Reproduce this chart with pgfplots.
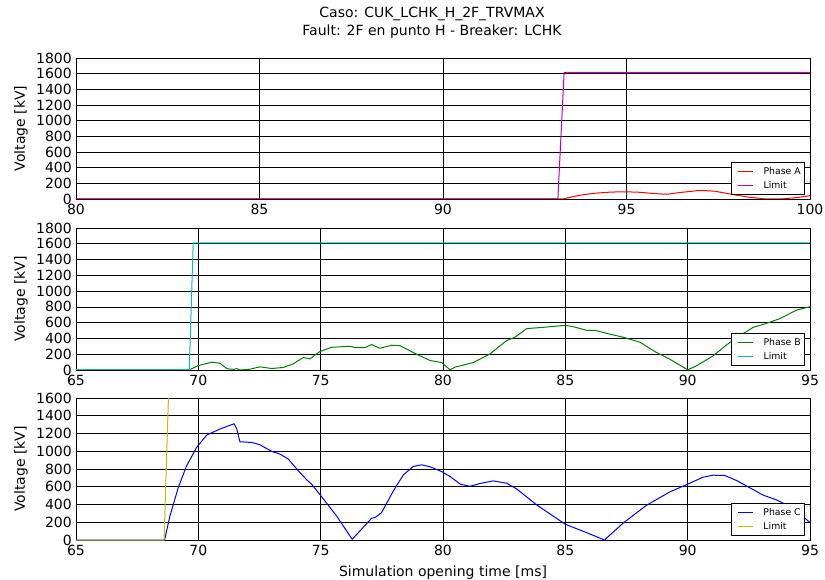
\documentclass[border=0pt]{standalone}
\usepackage{fontspec}
\setmainfont{DejaVu Sans}
\usepackage{pgfplots}
\pgfplotsset{compat=1.18}
\definecolor{mplm}{rgb}{0.75,0,0.75}
\definecolor{mplc}{rgb}{0,0.75,0.75}
\definecolor{mply}{rgb}{0.75,0.75,0}
\definecolor{mplg}{rgb}{0,0.5,0}
\definecolor{mplr}{rgb}{1,0,0}
\definecolor{mplb}{rgb}{0,0,1}
\pgfplotsset{
  panel/.style={
    scale only axis, width=734pt,
    axis line style={black, line width=0.9pt},
    grid=major, grid style={black, line width=0.7pt},
    tick align=inside, major tick length=4pt,
    tick style={black, line width=0.7pt},
    xtick distance=5, ytick distance=200,
    /pgf/number format/assume math mode=true,
    /pgf/number format/1000 sep={},
    tick label style={font=\fontsize{14}{16}\selectfont},
    yticklabel style={inner sep=1pt, xshift=-3pt},
    xticklabel style={inner sep=1pt, yshift=-4pt},
    ylabel={Voltage [kV]},
    every axis y label/.style={at={(axis description cs:-0.0749,0.5)}, rotate=90, anchor=center, font=\fontsize{14}{16}\selectfont},
    legend style={at={(1,0)}, anchor=south east, xshift=-5pt, yshift=4pt,
      draw=black, fill=white, line width=0.6pt, font=\fontsize{9.3}{11}\selectfont,
      inner xsep=2pt, inner ysep=3pt, row sep=1pt, cells={anchor=west},
      /tikz/every odd column/.append style={column sep=8pt}},
    legend image code/.code={\path (0pt,0pt); \draw[#1, line width=1.2pt] (4pt,0pt) -- (19pt,0pt);},
  },
  dline/.style={line width=1pt, mark=none},
}
\begin{document}
\begin{tikzpicture}
\path[use as bounding box] (0pt,0pt) rectangle (825pt,579pt);
\node[font=\fontsize{14}{16}\selectfont] at (432pt,565pt) {Caso: CUK\_LCHK\_H\_2F\_TRVMAX};
\node[font=\fontsize{14}{16}\selectfont] at (432pt,547pt) {Fault: 2F en punto H - Breaker: LCHK};

\begin{axis}[panel, at={(76pt,380pt)}, anchor=south west, height=141pt,
  xmin=80, xmax=100, ymin=0, ymax=1800]
\addplot[dline, color=mplr] coordinates {(80,0)(93.28,0)(93.5,25)(93.73,48)(94.1,72)(94.5,86)(94.82,92)(95.3,88)(95.7,72)(96.09,60)(96.5,85)(97.0,110)(97.4,100)(97.82,64)(98.3,25)(98.73,3)(99.27,3)(99.64,17)(100,43)};
\addlegendentry{Phase A}
\addplot[dline, color=mplm] coordinates {(80,0)(93.13,0)(93.30,1615)(100,1615)};
\addlegendentry{Limit}
\end{axis}

\begin{axis}[panel, at={(76pt,209pt)}, anchor=south west, height=142pt,
  xmin=65, xmax=95, ymin=0, ymax=1800]
\addplot[dline, color=mplg] coordinates {(65,0)(69.63,0)(70.0,57)(70.55,99)(70.88,86)(71.18,15)(71.45,8)(71.56,18)(71.70,0)(72.11,10)(72.52,40)(73.0,19)(73.47,32)(73.88,78)(74.29,158)(74.56,141)(74.97,234)(75.45,288)(76.2,301)(76.4,284)(76.81,284)(77.08,322)(77.42,276)(77.9,314)(78.24,309)(78.92,200)(79.47,120)(79.94,95)(80.29,2)(80.49,36)(81.24,95)(81.92,204)(82.6,373)(82.94,415)(83.42,525)(84.1,541)(85.0,566)(85.32,549)(85.87,503)(86.21,503)(86.68,465)(87.37,415)(88.05,352)(88.73,221)(89.27,137)(90.0,2)(90.36,53)(91.04,179)(91.59,318)(92.1,430)(92.68,541)(93.23,592)(93.77,651)(94.45,760)(95.0,802)};
\addlegendentry{Phase B}
\addplot[dline, color=mplc] coordinates {(65,0)(69.63,0)(69.79,1610)(95,1610)};
\addlegendentry{Limit}
\end{axis}

\begin{axis}[panel, at={(76pt,39pt)}, anchor=south west, height=142pt,
  xmin=65, xmax=95, ymin=0, ymax=1600,
  xlabel={Simulation opening time [ms]},
  every axis x label/.style={at={(axis description cs:0.5,-0.23)}, anchor=center, font=\fontsize{14}{16}\selectfont}]
\addplot[dline, color=mplb] coordinates {(65,0)(68.62,0)(68.84,271)(69.18,591)(69.52,836)(69.93,1043)(70.34,1182)(70.88,1250)(71.46,1310)(71.57,1250)(71.70,1107)(72.18,1099)(72.52,1073)(73.0,998)(73.34,968)(73.68,911)(74.09,779)(74.43,678)(74.63,629)(74.97,512)(75.65,271)(76.29,8)(77.08,245)(77.22,252)(77.49,309)(77.97,553)(78.38,734)(78.78,828)(79.13,847)(79.47,825)(79.94,772)(80.29,715)(80.71,629)(81.1,605)(81.5,636)(82.05,666)(82.6,640)(83.01,576)(83.83,395)(85.0,177)(85.87,83)(86.6,0)(87.35,188)(88.3,388)(89.27,542)(90.0,629)(90.63,708)(91.04,730)(91.52,727)(92.0,670)(93.09,505)(93.63,452)(94.18,376)(94.72,264)(95.0,196)};
\addlegendentry{Phase C}
\addplot[dline, color=mply] coordinates {(65,0)(68.6,0)(68.78,1620)(95,1620)};
\addlegendentry{Limit}
\end{axis}
\end{tikzpicture}
\end{document}
